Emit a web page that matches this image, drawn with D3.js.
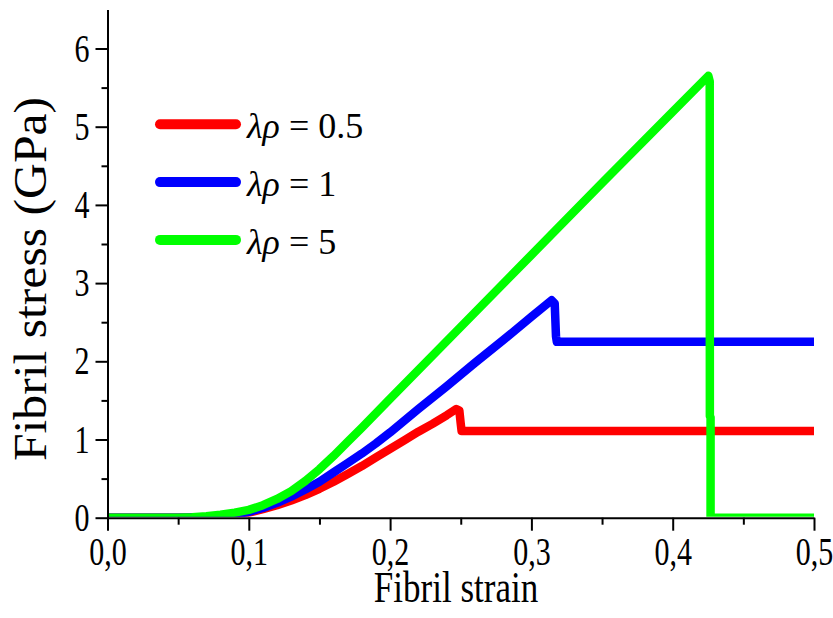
<!DOCTYPE html>
<html>
<head>
<meta charset="utf-8">
<script src="https://cdn.jsdelivr.net/npm/d3@7"></script>
<style>
  body { margin: 0; background: #fff; }
  svg { display: block; }
  text { font-family: "Liberation Serif", "Times New Roman", serif; fill: #000; }
</style>
</head>
<body>
<svg id="chart" width="833" height="618"></svg>
<script>
// Fibril stress–strain curves for three values of λρ
const strainRed  = [0, 0.05, 0.07, 0.08, 0.09, 0.10, 0.11, 0.12, 0.13, 0.14, 0.15, 0.16, 0.17, 0.18, 0.19, 0.20, 0.21, 0.22, 0.23, 0.24, 0.2468, 0.2490, 0.2500, 0.2506, 0.5];
const stressRed  = [0, 0, 0.005, 0.015, 0.035, 0.065, 0.11, 0.16, 0.22, 0.29, 0.37, 0.46, 0.56, 0.66, 0.77, 0.88, 0.99, 1.10, 1.20, 1.31, 1.39, 1.37, 1.20, 1.11, 1.11];

const strainBlue = [0, 0.05, 0.07, 0.08, 0.09, 0.10, 0.11, 0.12, 0.13, 0.14, 0.15, 0.16, 0.17, 0.18, 0.19, 0.20, 0.22, 0.24, 0.26, 0.28, 0.30, 0.3143, 0.3165, 0.3174, 0.3180, 0.5];
const stressBlue = [0, 0, 0.005, 0.018, 0.04, 0.075, 0.125, 0.19, 0.27, 0.36, 0.46, 0.58, 0.70, 0.82, 0.95, 1.09, 1.39, 1.68, 1.98, 2.27, 2.57, 2.78, 2.74, 2.32, 2.25, 2.25];

const strainGreen = [0, 0.05, 0.06, 0.07, 0.08, 0.09, 0.10, 0.11, 0.12, 0.13, 0.14, 0.15, 0.16, 0.17, 0.18, 0.20, 0.25, 0.30, 0.35, 0.40, 0.4252, 0.4262, 0.4263, 0.4268, 0.4268, 0.5];
const stressGreen = [0, 0, 0.006, 0.018, 0.038, 0.065, 0.10, 0.16, 0.24, 0.34, 0.47, 0.62, 0.79, 0.97, 1.15, 1.52, 2.44, 3.36, 4.28, 5.19, 5.65, 5.58, 1.30, 1.28, 0, 0];

const seriesNames  = ["0.5", "1", "5"];
const seriesColors = ["#ff0000", "#0000ff", "#00ff00"];

const xMajorTicks = [0, 0.1, 0.2, 0.3, 0.4, 0.5];
const xMinorTicks = [0.05, 0.15, 0.25, 0.35, 0.45];
const yMajorTicks = [0, 1, 2, 3, 4, 5, 6];
const yMinorTicks = [0.5, 1.5, 2.5, 3.5, 4.5, 5.5];

const xLabel = "Fibril strain";
const yLabel = "Fibril stress (GPa)";

const series = [
  { strain: strainRed,   stress: stressRed },
  { strain: strainBlue,  stress: stressBlue },
  { strain: strainGreen, stress: stressGreen }
].map((s, i) => ({
  name: seriesNames[i],
  color: seriesColors[i],
  points: s.strain.map((v, j) => [v, s.stress[j]])
}));

const svg = d3.select("#chart");
const plotLeft = 107.5, plotRight = 814, plotTop = 9.4, plotBottom = 517.7;

const x = d3.scaleLinear().domain([0, 0.5]).range([plotLeft, plotRight]);
const y = d3.scaleLinear().domain([0, 6.5]).range([plotBottom, plotTop]);

svg.append("defs").append("clipPath").attr("id", "plotClip")
  .append("rect")
  .attr("x", plotLeft).attr("y", 0)
  .attr("width", plotRight - plotLeft).attr("height", plotBottom - 1);

// curves, clipped to the plot area
const line = d3.line().x(d => x(d[0])).y(d => y(d[1]));
const curves = svg.append("g").attr("clip-path", "url(#plotClip)");
curves.selectAll("path").data(series).join("path")
  .attr("d", d => line(d.points))
  .attr("fill", "none")
  .attr("stroke", d => d.color)
  .attr("stroke-width", 8.5)
  .attr("stroke-linejoin", "round")
  .attr("stroke-linecap", "butt");

// axes with major and minor ticks
const fmtX = v => d3.format(".1f")(v).replace(".", ",");

const xAxis = svg.append("g").attr("transform", `translate(0,${plotBottom})`)
  .call(d3.axisBottom(x).tickValues(xMajorTicks).tickSize(13).tickSizeOuter(0).tickFormat(fmtX));
svg.append("g").attr("transform", `translate(0,${plotBottom})`)
  .call(d3.axisBottom(x).tickValues(xMinorTicks).tickSize(7).tickSizeOuter(0).tickFormat(""))
  .select(".domain").remove();

const yAxis = svg.append("g").attr("transform", `translate(${plotLeft},0)`)
  .call(d3.axisLeft(y).tickValues(yMajorTicks).tickSize(12).tickSizeOuter(0).tickFormat(d3.format("d")));
svg.append("g").attr("transform", `translate(${plotLeft},0)`)
  .call(d3.axisLeft(y).tickValues(yMinorTicks).tickSize(6).tickSizeOuter(0).tickFormat(""))
  .select(".domain").remove();

svg.selectAll(".domain").attr("stroke", "#000").attr("stroke-width", 2);
svg.selectAll(".tick line").attr("stroke", "#000").attr("stroke-width", 2);

xAxis.selectAll(".tick text")
  .attr("y", null).attr("dy", null)
  .attr("transform", `translate(0,${565 - plotBottom}) scale(1,1.3)`)
  .attr("font-size", 30)
  .attr("font-family", "Liberation Serif")
  .attr("text-anchor", "middle");

yAxis.selectAll(".tick text")
  .attr("x", null).attr("dy", null)
  .attr("transform", `translate(-18,12.5) scale(1,1.3)`)
  .attr("font-size", 30)
  .attr("font-family", "Liberation Serif")
  .attr("text-anchor", "end");

// axis titles
svg.append("text")
  .attr("transform", `translate(456,602) scale(1,1.25)`)
  .attr("text-anchor", "middle")
  .attr("font-size", 35)
  .text(xLabel);

svg.append("text")
  .attr("transform", `translate(46,279) rotate(-90) scale(1.08,1)`)
  .attr("text-anchor", "middle")
  .attr("font-size", 46)
  .text(yLabel);

// legend
const legend = svg.append("g");
const legendRows = legend.selectAll("g").data(series).join("g")
  .attr("transform", (d, i) => `translate(0,${124.3 + i * 57.8})`);
legendRows.append("line")
  .attr("x1", 160).attr("x2", 236)
  .attr("stroke", d => d.color)
  .attr("stroke-width", 10)
  .attr("stroke-linecap", "round");
const lt = legendRows.append("text")
  .attr("x", 247).attr("y", 14)
  .attr("font-size", 36);
lt.append("tspan").attr("font-style", "italic").text("λρ");
lt.append("tspan").text(d => " = " + d.name);
</script>
</body>
</html>
